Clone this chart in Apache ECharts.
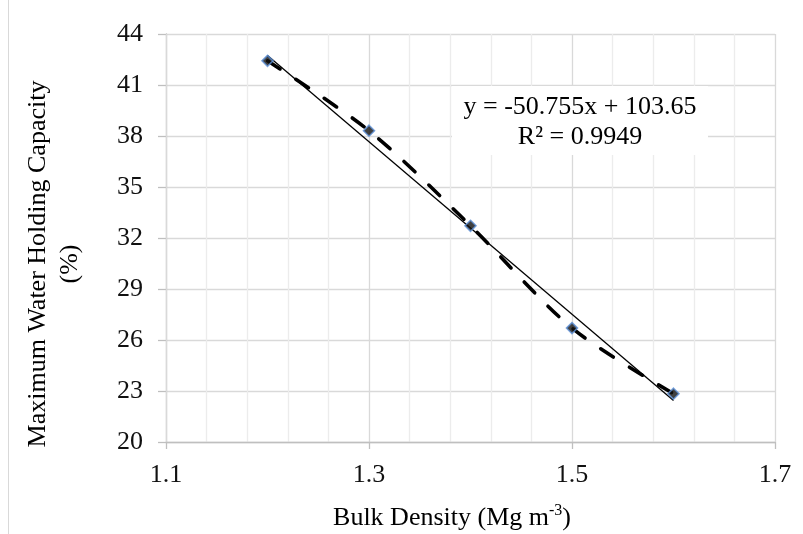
<!DOCTYPE html>
<html>
<head>
<meta charset="utf-8">
<script src="https://cdn.jsdelivr.net/npm/echarts@6/dist/echarts.min.js"></script>
<style>
html,body{margin:0;padding:0;background:#fff;}
#chart{width:803px;height:534px;}
</style>
</head>
<body>
<div id="chart"></div>
<script>
// ---- data ----
const bulkDensity = [1.2, 1.3, 1.4, 1.5, 1.6];
const waterCapacity = [42.42, 38.31, 32.72, 26.70, 22.84];
const trendX = [1.2, 1.6];
const trendY = [42.74, 22.44];
const xTicks = [1.1, 1.3, 1.5, 1.7];
const yTicks = [20, 23, 26, 29, 32, 35, 38, 41, 44];
const equationText = 'y = -50.755x + 103.65';
const r2Text = 'R² = 0.9949';
const xTitle = 'Bulk Density (Mg m';
const xTitleSup = '-3';
const yTitle = 'Maximum Water Holding Capacity';
const yTitle2 = '(%)';

// minor vertical grid values: 4 between each pair of major ticks
const xMinor = [];
for (let i = 0; i < xTicks.length - 1; i++) {
  const a = xTicks[i], b = xTicks[i + 1];
  for (let k = 1; k < 5; k++) xMinor.push(+(a + (b - a) * k / 5).toFixed(4));
}

const FONT = "'Liberation Serif', 'Times New Roman', serif";
const chart = echarts.init(document.getElementById('chart'), null, {renderer: 'canvas'});

const option = {
  animation: false,
  backgroundColor: '#ffffff',
  grid: {left: 166, right: 28, top: 34, bottom: 92, containLabel: false},
  xAxis: [
    {
      type: 'value', min: xTicks[0], max: xTicks[xTicks.length - 1],
      axisLine: {show: true, onZero: false, lineStyle: {color: '#bfbfbf', width: 1.3}},
      axisTick: {show: true, length: 7, customValues: xTicks, lineStyle: {color: '#bfbfbf', width: 1.3}},
      axisLabel: {customValues: xTicks, margin: 20, fontSize: 26, fontFamily: FONT, color: '#111',
                  formatter: v => v.toFixed(1)},
      splitLine: {show: true, lineStyle: {color: '#d9d9d9', width: 1.3}},
      z: 1
    },
    {
      type: 'value', min: xTicks[0], max: xTicks[xTicks.length - 1], position: 'bottom',
      axisLine: {show: false}, axisTick: {show: false, customValues: xMinor},
      axisLabel: {show: false, customValues: xMinor},
      splitLine: {show: true, lineStyle: {color: '#ececec', width: 1.3}},
      z: 0
    }
  ],
  yAxis: {
    type: 'value', min: yTicks[0], max: yTicks[yTicks.length - 1],
    axisLine: {show: true, onZero: false, lineStyle: {color: '#bfbfbf', width: 1.3}},
    axisTick: {show: true, length: 8, customValues: yTicks, lineStyle: {color: '#bfbfbf', width: 1.3}},
    axisLabel: {customValues: yTicks, margin: 23, fontSize: 26, fontFamily: FONT, color: '#111'},
    splitLine: {show: true, lineStyle: {color: '#d9d9d9', width: 1.3}}
  },
  series: [
    {
      type: 'line', xAxisIndex: 0,
      data: trendX.map((x, i) => [x, trendY[i]]),
      symbol: 'none', silent: true,
      lineStyle: {color: '#000', width: 1.3},
      z: 3
    },
    {
      type: 'line', xAxisIndex: 0,
      data: bulkDensity.map((x, i) => [x, waterCapacity[i]]),
      smooth: 0.3, symbol: 'none',
      lineStyle: {color: '#000', width: 3.6, type: [15, 19], cap: 'round'},
      z: 4
    },
    {
      type: 'scatter', xAxisIndex: 0,
      data: bulkDensity.map((x, i) => [x, waterCapacity[i]]),
      symbol: 'diamond', symbolSize: 11,
      itemStyle: {color: '#111', borderColor: '#5b8fd6', borderWidth: 1.6},
      z: 5
    }
  ],
  graphic: [
    {type: 'line', shape: {x1: 8.5, y1: 0, x2: 8.5, y2: 534}, style: {stroke: '#d9d9d9', lineWidth: 1}, z: 100},
    {type: 'rect', shape: {x: 452, y: 86, width: 256, height: 69}, style: {fill: '#ffffff'}, z: 100},
    {type: 'text', x: 580, y: 107, z: 101,
     style: {text: equationText, fontSize: 26, fontFamily: FONT, fill: '#000', textAlign: 'center', textVerticalAlign: 'middle'}},
    {type: 'text', x: 580, y: 137, z: 101,
     style: {text: r2Text, fontSize: 26, fontFamily: FONT, fill: '#000', textAlign: 'center', textVerticalAlign: 'middle'}},
    {type: 'text', x: 452, y: 518, z: 101,
     style: {
       text: '{a|' + xTitle + '}{b|' + xTitleSup + '}{a|)}',
       textAlign: 'center', textVerticalAlign: 'middle',
       rich: {
         a: {fontSize: 26, fontFamily: FONT, color: '#000', lineHeight: 30},
         b: {fontSize: 16, fontFamily: FONT, color: '#000', verticalAlign: 'top', lineHeight: 26}
       }
     }},
    {type: 'text', x: 54, y: 264, rotation: Math.PI / 2, z: 101,
     style: {text: yTitle + '\n' + yTitle2, fontSize: 26, fontFamily: FONT, fill: '#000',
             textAlign: 'center', textVerticalAlign: 'middle', lineHeight: 32}}
  ]
};
chart.setOption(option);
</script>
</body>
</html>
